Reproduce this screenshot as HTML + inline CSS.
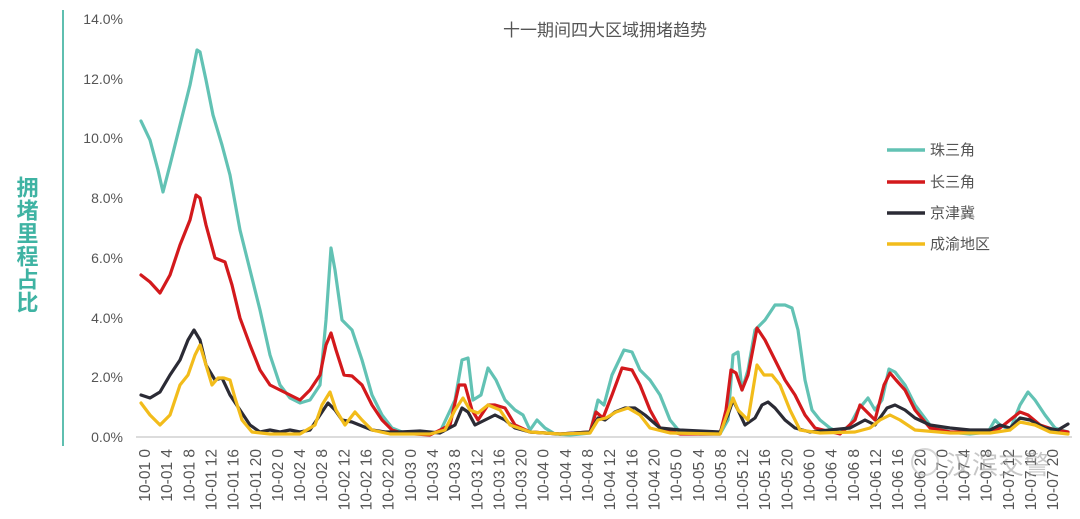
<!DOCTYPE html>
<html><head><meta charset="utf-8"><style>
body{margin:0;background:#fff;}
svg{display:block;}
text{font-family:"Liberation Sans","Noto Sans CJK SC",sans-serif;}
</style></head><body>
<svg width="1080" height="519" viewBox="0 0 1080 519" xmlns="http://www.w3.org/2000/svg">
<rect width="1080" height="519" fill="#fff"/>
<line x1="63" y1="10" x2="63" y2="446" stroke="#5fbfb0" stroke-width="2"/>
<text x="26" y="245" fill="#3fb3a3" font-size="22" font-weight="bold" text-anchor="middle" style="writing-mode:vertical-rl;letter-spacing:1px">拥堵里程占比</text>
<g font-size="14" fill="#555" text-anchor="end">
<text x="123" y="442">0.0%</text><text x="123" y="382">2.0%</text><text x="123" y="323">4.0%</text><text x="123" y="263">6.0%</text><text x="123" y="203">8.0%</text><text x="123" y="143">10.0%</text><text x="123" y="84">12.0%</text><text x="123" y="24">14.0%</text>
</g>
<line x1="136" y1="437" x2="1072" y2="437" stroke="#d0d0d0" stroke-width="1.5"/>
<text x="605" y="36" fill="#555" font-size="17" text-anchor="middle">十一期间四大区域拥堵趋势</text>
<g font-size="15.5" fill="#555" text-anchor="end">
<text transform="translate(150,449) rotate(-90)">10-01 0</text>
<text transform="translate(172.2,449) rotate(-90)">10-01 4</text>
<text transform="translate(194.3,449) rotate(-90)">10-01 8</text>
<text transform="translate(216.5,449) rotate(-90)">10-01 12</text>
<text transform="translate(238.6,449) rotate(-90)">10-01 16</text>
<text transform="translate(260.8,449) rotate(-90)">10-01 20</text>
<text transform="translate(282.9,449) rotate(-90)">10-02 0</text>
<text transform="translate(305.1,449) rotate(-90)">10-02 4</text>
<text transform="translate(327.2,449) rotate(-90)">10-02 8</text>
<text transform="translate(349.4,449) rotate(-90)">10-02 12</text>
<text transform="translate(371.5,449) rotate(-90)">10-02 16</text>
<text transform="translate(393.7,449) rotate(-90)">10-02 20</text>
<text transform="translate(415.8,449) rotate(-90)">10-03 0</text>
<text transform="translate(438,449) rotate(-90)">10-03 4</text>
<text transform="translate(460.1,449) rotate(-90)">10-03 8</text>
<text transform="translate(482.3,449) rotate(-90)">10-03 12</text>
<text transform="translate(504.4,449) rotate(-90)">10-03 16</text>
<text transform="translate(526.6,449) rotate(-90)">10-03 20</text>
<text transform="translate(548.7,449) rotate(-90)">10-04 0</text>
<text transform="translate(570.9,449) rotate(-90)">10-04 4</text>
<text transform="translate(593,449) rotate(-90)">10-04 8</text>
<text transform="translate(615.2,449) rotate(-90)">10-04 12</text>
<text transform="translate(637.3,449) rotate(-90)">10-04 16</text>
<text transform="translate(659.5,449) rotate(-90)">10-04 20</text>
<text transform="translate(681.6,449) rotate(-90)">10-05 0</text>
<text transform="translate(703.8,449) rotate(-90)">10-05 4</text>
<text transform="translate(725.9,449) rotate(-90)">10-05 8</text>
<text transform="translate(748.1,449) rotate(-90)">10-05 12</text>
<text transform="translate(770.2,449) rotate(-90)">10-05 16</text>
<text transform="translate(792.4,449) rotate(-90)">10-05 20</text>
<text transform="translate(814.5,449) rotate(-90)">10-06 0</text>
<text transform="translate(836.7,449) rotate(-90)">10-06 4</text>
<text transform="translate(858.8,449) rotate(-90)">10-06 8</text>
<text transform="translate(881,449) rotate(-90)">10-06 12</text>
<text transform="translate(903.1,449) rotate(-90)">10-06 16</text>
<text transform="translate(925.3,449) rotate(-90)">10-06 20</text>
<text transform="translate(947.4,449) rotate(-90)">10-07 0</text>
<text transform="translate(969.6,449) rotate(-90)">10-07 4</text>
<text transform="translate(991.7,449) rotate(-90)">10-07 8</text>
<text transform="translate(1013.9,449) rotate(-90)">10-07 12</text>
<text transform="translate(1036,449) rotate(-90)">10-07 16</text>
<text transform="translate(1058.2,449) rotate(-90)">10-07 20</text>
</g>
<g fill="none" stroke-width="3.2" stroke-linejoin="round" stroke-linecap="round">
<polyline stroke="#62c2b4" points="141,121 150,140 158,170 163,192 170,165 180,125 190,85 197,50 200,52 206,80 213,115 222,145 230,175 240,230 250,270 260,310 270,355 280,385 290,398 300,403 310,400 320,385 326,320 331,248 335,270 342,320 352,330 362,360 372,395 382,415 392,428 402,432 420,434 440,432 455,400 462,360 468,358 473,400 481,395 488,368 496,380 505,400 515,410 523,415 530,430 537,420 545,428 555,434 570,435 590,433 598,400 604,405 612,375 624,350 632,352 640,370 650,380 660,395 670,420 680,432 700,434 720,434 728,420 733,355 738,352 742,390 748,370 755,330 765,320 775,305 785,305 792,308 798,330 805,380 812,410 820,420 830,428 840,433 850,425 858,410 868,398 875,410 882,400 889,369 895,372 905,385 915,405 930,425 950,432 970,434 988,432 995,420 1000,425 1010,430 1020,405 1028,392 1035,400 1045,415 1055,428 1068,432"/>
<polyline stroke="#d3191c" points="141,275 150,282 160,293 170,275 180,245 190,220 196,195 200,198 206,225 215,258 225,262 232,285 240,318 250,345 260,370 270,385 280,390 290,395 300,400 310,390 320,375 326,345 331,333 336,350 344,375 352,376 362,385 372,405 382,420 392,430 402,433 430,435 450,425 459,385 465,385 472,410 478,420 488,405 495,405 505,408 515,425 530,432 560,434 590,432 596,412 603,418 612,395 622,368 632,370 640,385 650,410 660,428 680,434 720,434 726,410 731,370 736,373 742,390 748,375 757,328 765,340 775,360 785,380 795,395 805,415 815,428 840,434 855,420 860,405 865,410 875,420 884,385 890,373 896,380 905,390 915,410 930,428 950,432 990,432 1000,428 1010,420 1020,412 1028,415 1040,425 1055,430 1068,432"/>
<polyline stroke="#2b2b35" points="141,395 150,398 160,392 170,375 180,360 188,340 194,330 200,340 206,365 215,380 222,378 230,395 240,410 250,425 260,432 270,430 280,432 290,430 300,432 310,430 320,415 328,403 335,410 342,420 352,422 362,426 372,430 385,432 400,432 420,431 440,433 455,425 462,408 468,412 475,425 485,420 495,415 505,420 515,428 530,432 560,434 590,432 598,418 605,420 615,412 625,408 635,408 645,415 660,428 680,430 700,431 720,432 728,415 733,400 738,410 745,425 755,418 762,405 768,402 775,408 785,420 795,428 810,432 830,430 850,428 865,420 875,425 887,408 895,405 905,410 915,418 930,425 950,428 970,430 990,430 1000,425 1010,428 1020,418 1030,420 1045,428 1058,430 1068,424"/>
<polyline stroke="#f2bc1b" points="141,403 150,415 160,425 170,415 180,385 188,375 195,355 200,345 206,365 212,385 218,378 224,378 230,380 235,398 242,420 252,432 270,434 300,434 315,425 322,405 330,392 336,410 345,425 355,412 362,420 372,430 390,434 430,434 445,430 455,410 463,398 470,410 478,413 488,405 500,410 510,425 530,432 560,434 590,433 598,420 606,418 616,412 628,408 640,415 650,428 670,433 720,434 728,412 733,398 738,410 748,420 757,365 764,375 772,375 780,385 790,410 800,430 820,433 855,432 870,428 880,420 890,415 900,420 915,430 950,433 990,433 1010,430 1020,422 1035,425 1050,432 1068,434"/>
</g>
<g stroke-width="3.5">
<line x1="887" y1="150" x2="925" y2="150" stroke="#62c2b4"/>
<line x1="887" y1="182" x2="925" y2="182" stroke="#d3191c"/>
<line x1="887" y1="213" x2="925" y2="213" stroke="#2b2b35"/>
<line x1="887" y1="244" x2="925" y2="244" stroke="#f2bc1b"/>
</g>
<g font-size="15" fill="#555">
<text x="930" y="155">珠三角</text><text x="930" y="187">长三角</text><text x="930" y="218">京津冀</text><text x="930" y="249">成渝地区</text>
</g>
<circle cx="925" cy="462" r="13" fill="none" stroke="#bbb" stroke-width="2" opacity="0.6"/>
<text x="946" y="474" font-size="26" fill="#999" opacity="0.55">汉滨交警</text>
</svg>
</body></html>
